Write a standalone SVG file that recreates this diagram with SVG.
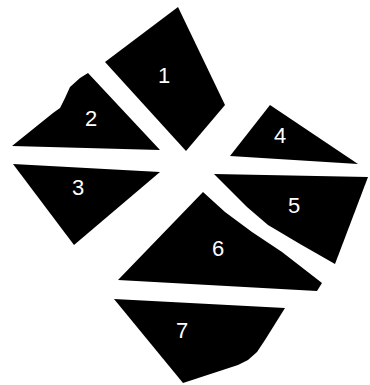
<svg xmlns="http://www.w3.org/2000/svg" width="370" height="385" viewBox="0 0 370 385">
<style>
.p{fill:#000;stroke:none}
.t{fill:#fff;font-family:"Liberation Sans",Arial,sans-serif;font-size:22px;text-anchor:middle}
</style>
<rect width="370" height="385" fill="#fff"/>
<g id="n1"><path class="p" d="M178,7 L225,105 L186,151 L105,62 Z"/><text class="t" x="164" y="83">1</text></g>
<g id="n2"><path class="p" d="M88,73 L160,150 L12,146 L53,113 L60,108 L65,98 L70,87 L80,78 Z"/><text class="t" x="91" y="126">2</text></g>
<g id="n3"><path class="p" d="M13,164 L160,172 L74,245 Z"/><text class="t" x="78" y="195">3</text></g>
<g id="n4"><path class="p" d="M270,105 L358,164 L230,156 Z"/><text class="t" x="280" y="143">4</text></g>
<g id="n5"><path class="p" d="M214,174 L368,177 L335,264 L300,244 L268,225 L247,207 Z"/><text class="t" x="294" y="213">5</text></g>
<g id="n6"><path class="p" d="M203,192 L225,212 L252,232 L282,252 L322,283 L317,291 L118,280 Z"/><text class="t" x="218" y="256">6</text></g>
<g id="n7"><path class="p" d="M114,299 L285,308 L265,340 L257,352 L248,360 L238,365 L183,383 Z"/><text class="t" x="182" y="338">7</text></g>
<g id="connectors"></g>
</svg>
